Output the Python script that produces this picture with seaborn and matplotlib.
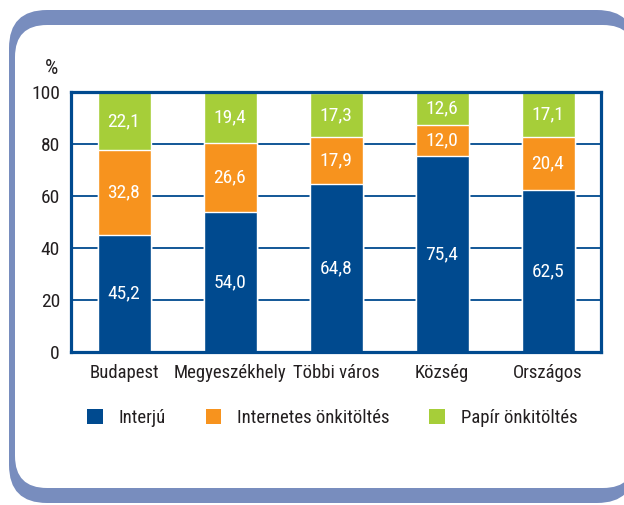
import matplotlib
matplotlib.use("Agg")
import matplotlib.pyplot as plt
from matplotlib.patches import FancyBboxPatch, Patch
from matplotlib.transforms import IdentityTransform
import pandas as pd
import seaborn as sns

# Adatok (a kép alapján)
TELEPULES = ["Budapest", "Megyeszékhely", "Többi város", "Község", "Országos"]
INTERJU = [45.2, 54.0, 64.8, 75.4, 62.5]
INTERNETES = [32.8, 26.6, 17.9, 12.0, 20.4]
PAPIR = [22.1, 19.4, 17.3, 12.6, 17.1]
SOROZATOK = ["Interjú", "Internetes önkitöltés", "Papír önkitöltés"]
Y_TICKS = [0, 20, 40, 60, 80, 100]

KEK = "#004A8F"
NARANCS = "#F7931E"
ZOLD = "#A6CE39"
KERET = "#788DBE"
SZOVEG = "#231F20"
BETU = ["Roboto Condensed", "DejaVu Sans"]

sns.set_theme(style="white")
plt.rcParams["font.family"] = BETU
plt.rcParams["text.color"] = SZOVEG

df = pd.DataFrame({"telepules": TELEPULES, "interju": INTERJU,
                   "internetes": INTERNETES, "papir": PAPIR})
df["c1"] = df["interju"]
df["c2"] = df["c1"] + df["internetes"]
df["c3"] = df["c2"] + df["papir"]

fig = plt.figure(figsize=(6.24, 5.05), dpi=100)

# lekerekített keret
W, H = 624, 505
fig.patches.append(FancyBboxPatch((9, 2), 626, 493,
                                  boxstyle="round,pad=0,rounding_size=38",
                                  transform=IdentityTransform(), fc=KERET,
                                  ec="none", figure=fig, zorder=-2))
fig.patches.append(FancyBboxPatch((15, 17), 620, 463,
                                  boxstyle="round,pad=0,rounding_size=32",
                                  transform=IdentityTransform(), fc="white",
                                  ec="none", figure=fig, zorder=-1))

ax = fig.add_axes([71 / W, 153 / H, 530 / W, 259.5 / H])
ax.set_zorder(1)
ax.set_facecolor("white")

# halmozott oszlopok: kumulált értékek, a legmagasabbtól lefelé
for col, szin in [("c3", ZOLD), ("c2", NARANCS), ("c1", KEK)]:
    sns.barplot(data=df, x="telepules", y=col, color=szin, width=0.5,
                saturation=1, errorbar=None, ax=ax, zorder=2)

for i in range(len(df)):
    alj = 0
    for v in (df.loc[i, "interju"], df.loc[i, "internetes"], df.loc[i, "papir"]):
        ax.text(i, alj + v / 2, f"{v:.1f}".replace(".", ","), color="white",
                ha="center", va="center", fontsize=14, zorder=3)
        alj += v

ax.set_ylim(0, 100)
ax.set_xlim(-0.5, len(TELEPULES) - 0.5)
ax.set_yticks(Y_TICKS)
ax.set_xlabel("")
ax.set_ylabel("")
ax.yaxis.grid(True, color=KEK, lw=1.3)
ax.set_axisbelow(True)
for s in ax.spines.values():
    s.set_visible(True)
    s.set_color(KEK)
    s.set_linewidth(2.3)
ax.tick_params(axis="y", length=0, pad=8, labelsize=14, labelcolor=SZOVEG)
ax.tick_params(axis="x", length=0, pad=9, labelsize=13.5, labelcolor=SZOVEG)

fig.text(58 / W, 1 - 69 / H, "%", ha="right", va="center", fontsize=15)

kezelok = [Patch(fc=c, ec="none") for c in (KEK, NARANCS, ZOLD)]
fig.legend(kezelok, SOROZATOK, loc="center left",
           bbox_to_anchor=(87 / W, 1 - 418 / H), ncol=3, frameon=False,
           fontsize=13.5, handlelength=0.85, handleheight=0.85,
           handletextpad=0.85, columnspacing=2.1, borderpad=0,
           borderaxespad=0)

fig.savefig("out.png", dpi=100)
